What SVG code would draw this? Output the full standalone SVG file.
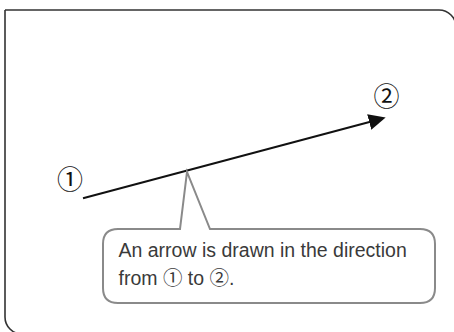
<svg xmlns="http://www.w3.org/2000/svg" width="454" height="332" viewBox="0 0 454 332">
<style>
.frame{fill:none;stroke:#333;stroke-width:1.6}
.arrow{stroke:#111;stroke-width:2;fill:none}
.callout{fill:#fff;stroke:#8a8a8a;stroke-width:2;stroke-linejoin:miter}
.lbl{font-family:"Noto Sans CJK JP","DejaVu Sans",sans-serif;font-size:26px;fill:#111}
.txt{font-family:"Liberation Sans","DejaVu Sans",sans-serif;font-size:19.5px;fill:#3a3a3a}
.cj{font-family:"Noto Sans CJK JP","DejaVu Sans",sans-serif}
</style>
<defs>
<marker id="ah" markerUnits="userSpaceOnUse" markerWidth="18" markerHeight="16" refX="7" refY="8" orient="auto">
<path d="M0,0 L17,8 L0,16 Z" fill="#111"/>
</marker>
</defs>
<path class="frame" d="M5,10 H439 A17,17 0 0 1 456,27 V340 M5,10 V317 A17,17 0 0 0 22,334 H460"/>
<g id="connectors">
<line class="arrow" x1="83" y1="198.3" x2="376" y2="120.2" marker-end="url(#ah)"/>
</g>
<g id="label1"><text class="lbl" x="70" y="188.5" text-anchor="middle">①</text></g>
<g id="label2"><text class="lbl" x="386.5" y="105.5" text-anchor="middle">②</text></g>
<g id="callout">
<path class="callout" d="M180,229 H118 Q103,229 103,244 V288 Q103,303 118,303 H420 Q435,303 435,288 V244 Q435,229 420,229 H210 L187,172 Z"/>
<text class="txt" x="118.5" y="257">An arrow is drawn in the direction</text>
<text class="txt" x="118.5" y="285">from <tspan class="cj">①</tspan> to <tspan class="cj">②</tspan>.</text>
</g>
</svg>
